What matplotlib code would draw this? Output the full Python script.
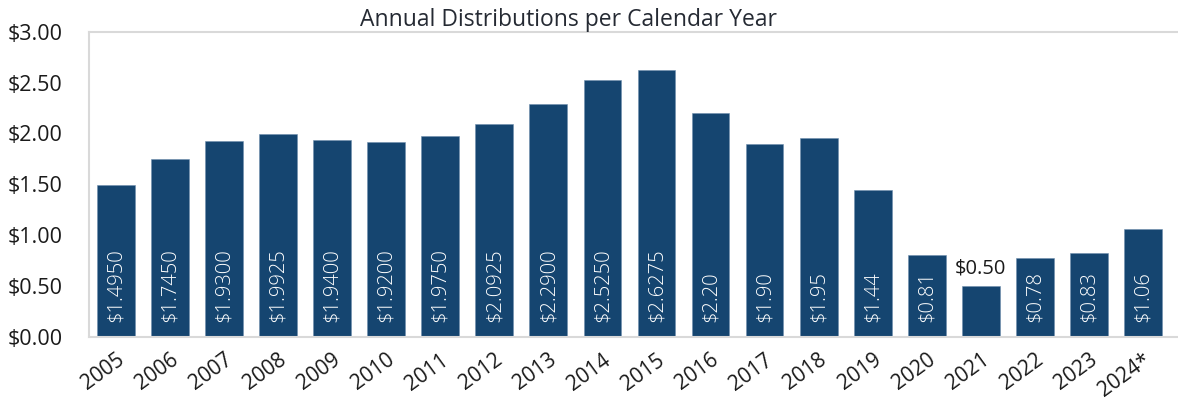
import matplotlib.pyplot as plt
import numpy as np

# ── data ──
years = ["2005", "2006", "2007", "2008", "2009", "2010", "2011", "2012", "2013", "2014",
         "2015", "2016", "2017", "2018", "2019", "2020", "2021", "2022", "2023", "2024*"]
values = [1.495, 1.745, 1.930, 1.9925, 1.940, 1.920, 1.975, 2.0925, 2.290, 2.525,
          2.6275, 2.20, 1.90, 1.95, 1.44, 0.81, 0.50, 0.78, 0.83, 1.06]
labels = ["$1.4950", "$1.7450", "$1.9300", "$1.9925", "$1.9400", "$1.9200", "$1.9750",
          "$2.0925", "$2.2900", "$2.5250", "$2.6275", "$2.20", "$1.90", "$1.95", "$1.44",
          "$0.81", "$0.50", "$0.78", "$0.83", "$1.06"]
outside = ["2021"]   # label sits above the bar

BAR = '#154570'
FONT = ['Open Sans', 'DejaVu Sans']

fig = plt.figure(figsize=(11.78, 4.0), dpi=100, facecolor='white')
ax = fig.add_axes([0.0756, 0.1575, 0.9244, 0.7635])

x = np.arange(len(years))
ax.bar(x, values, width=0.70, color=BAR, edgecolor='#6f8fae', linewidth=0.4, zorder=2)

for xi, yr, v, lab in zip(x, years, values, labels):
    if yr in outside:
        ax.text(xi, v + 0.07, lab, ha='center', va='bottom', fontsize=14.5,
                color='#1a1a1a', family=FONT)
    else:
        ax.text(xi, 0.15, lab, ha='center', va='bottom', rotation=90, fontsize=14.5,
                color='white', family=FONT, fontweight='light')

ax.set_xlim(-0.5, 19.65)
ax.set_ylim(0, 3.0)
ax.set_yticks(np.arange(0, 3.01, 0.5))
ax.set_yticklabels([f'${t:.2f}' for t in np.arange(0, 3.01, 0.5)], family=FONT,
                   fontsize=15.5, color='#1a1a1a')
ax.set_xticks(x)
ax.set_xticklabels(years, rotation=36, ha='right', rotation_mode='anchor',
                   family=FONT, fontsize=15, color='#1a1a1a')
ax.tick_params(axis='both', length=0)
ax.tick_params(axis='y', pad=19)
ax.tick_params(axis='x', pad=9)

for side in ['left', 'top', 'bottom']:
    ax.spines[side].set_color('#d9d9d9')
    ax.spines[side].set_linewidth(1.5)
ax.spines['right'].set_visible(False)

ax.text(0.44, 1.0, 'Annual Distributions per Calendar Year', transform=ax.transAxes,
        ha='center', va='bottom', fontsize=16.5, color='#252a33', family=FONT)

fig.savefig('out.png', dpi=100, facecolor='white')
